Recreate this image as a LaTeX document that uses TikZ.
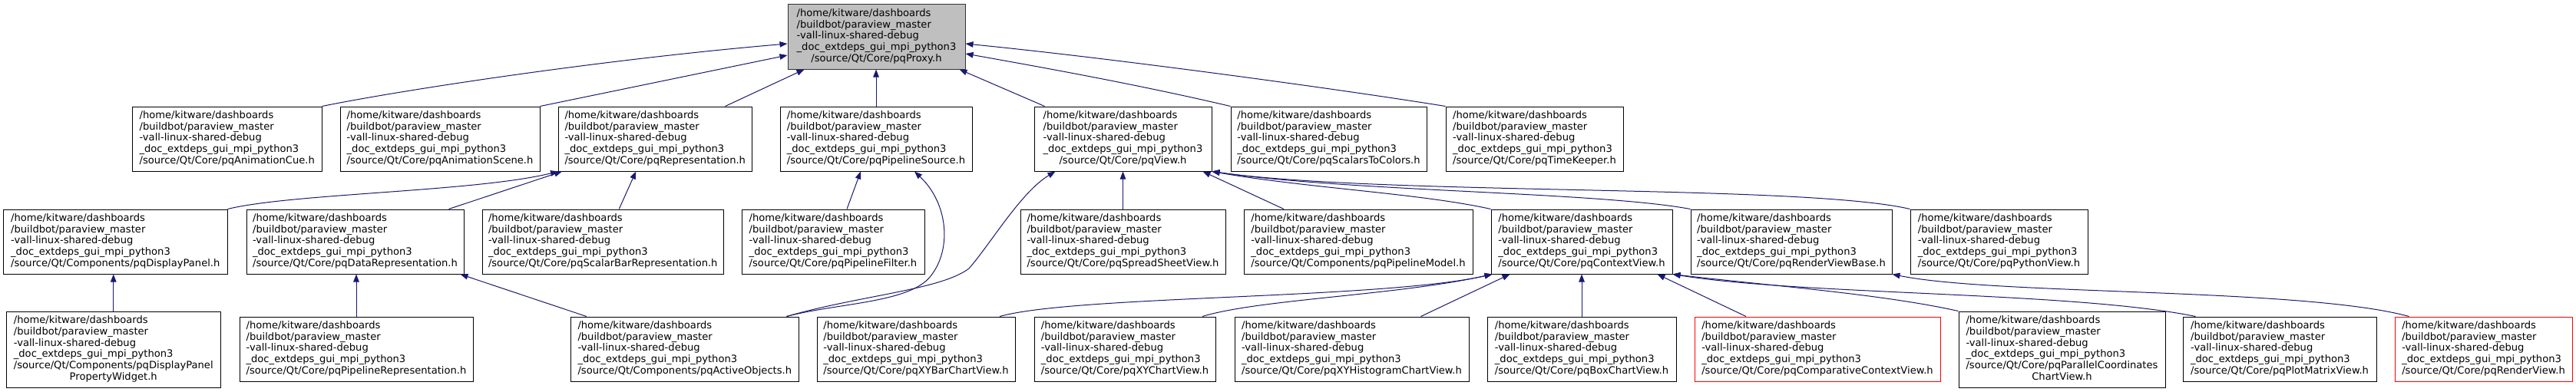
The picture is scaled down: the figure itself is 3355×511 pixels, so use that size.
\documentclass[tikz,border=0pt]{standalone}
\usepackage{fontspec}
\setmainfont{DejaVu Sans}
\usetikzlibrary{arrows.meta}
\definecolor{edgeblue}{RGB}{25,25,112}
\definecolor{proxyfill}{RGB}{191,191,191}
\newcommand{\pre}{/home/kitware/dashboards\\/buildbot/paraview\_master\\-vall-linux-shared-debug\\\_doc\_extdeps\_gui\_mpi\_python3}
\newcommand{\lblA}[1]{\begin{tabular}{@{}l@{}}\pre\\#1\end{tabular}}
\newcommand{\lblC}[1]{\begin{tabular}{@{}l@{}}\pre\\\multicolumn{1}{@{}c@{}}{#1}\end{tabular}}
\newcommand{\lblS}[2]{\begin{tabular}{@{}l@{}}\pre\\#1\\\multicolumn{1}{@{}c@{}}{#2}\end{tabular}}
\begin{document}
\begin{tikzpicture}[x=1pt,y=-1pt,
  nbox/.style={draw=black, line width=1pt, fill=white, rectangle, inner sep=1pt,
    minimum height=84pt, font=\fontsize{13.1pt}{14.75pt}\selectfont},
  tall/.style={minimum height=99pt},
  redbox/.style={draw=red},
  edge/.style={draw=edgeblue, line width=1pt, -{Triangle[length=10pt,width=7.5pt]}}]
\fill[white] (0,0) rectangle (3355,511);
\useasboundingbox (0,0) rectangle (3355,511);
% row 0
\node[nbox, fill=proxyfill, draw=black!80, minimum width=231pt] (proxy) at (1141.5,48) {\lblC{/source/Qt/Core/pqProxy.h}};
% row 1
\node[nbox, minimum width=246.5pt] (cue) at (295.75,181) {\lblA{/source/Qt/Core/pqAnimationCue.h}};
\node[nbox, minimum width=260pt] (scene) at (573,181) {\lblA{/source/Qt/Core/pqAnimationScene.h}};
\node[nbox, minimum width=251.5pt] (rep) at (853.25,181) {\lblA{/source/Qt/Core/pqRepresentation.h}};
\node[nbox, minimum width=250pt] (psrc) at (1141,181) {\lblA{/source/Qt/Core/pqPipelineSource.h}};
\node[nbox, minimum width=231pt] (view) at (1462.5,181) {\lblC{/source/Qt/Core/pqView.h}};
\node[nbox, minimum width=255pt] (s2c) at (1730.5,181) {\lblA{/source/Qt/Core/pqScalarsToColors.h}};
\node[nbox, minimum width=231pt] (tk) at (1998.5,181) {\lblA{/source/Qt/Core/pqTimeKeeper.h}};
% row 2
\node[nbox, minimum width=291.4pt] (dpanel) at (150.3,315) {\lblA{/source/Qt/Components/pqDisplayPanel.h}};
\node[nbox, minimum width=283pt] (datarep) at (462.5,315) {\lblA{/source/Qt/Core/pqDataRepresentation.h}};
\node[nbox, minimum width=314.5pt] (sbrep) at (785.25,315) {\lblA{/source/Qt/Core/pqScalarBarRepresentation.h}};
\node[nbox, minimum width=238pt] (pfilter) at (1085,315) {\lblA{/source/Qt/Core/pqPipelineFilter.h}};
\node[nbox, minimum width=267pt] (ssv) at (1462.5,315) {\lblA{/source/Qt/Core/pqSpreadSheetView.h}};
\node[nbox, minimum width=298pt] (pmodel) at (1769,315) {\lblA{/source/Qt/Components/pqPipelineModel.h}};
\node[nbox, minimum width=236pt] (ctx) at (2060,315) {\lblA{/source/Qt/Core/pqContextView.h}};
\node[nbox, minimum width=262pt] (rvb) at (2333,315) {\lblA{/source/Qt/Core/pqRenderViewBase.h}};
\node[nbox, minimum width=231pt] (pyv) at (2603.5,315) {\lblA{/source/Qt/Core/pqPythonView.h}};
% row 3
\node[nbox, tall, minimum width=279.5pt] (dppw) at (147.75,455.5) {\lblS{/source/Qt/Components/pqDisplayPanel}{PropertyWidget.h}};
\node[nbox, minimum width=304pt] (piperep) at (464,455) {\lblA{/source/Qt/Core/pqPipelineRepresentation.h}};
\node[nbox, minimum width=296.4pt] (active) at (891.8,455) {\lblA{/source/Qt/Components/pqActiveObjects.h}};
\node[nbox, minimum width=258pt] (xybar) at (1193,455) {\lblA{/source/Qt/Core/pqXYBarChartView.h}};
\node[nbox, minimum width=236pt] (xy) at (1465,455) {\lblA{/source/Qt/Core/pqXYChartView.h}};
\node[nbox, minimum width=305pt] (xyhist) at (1760.5,455) {\lblA{/source/Qt/Core/pqXYHistogramChartView.h}};
\node[nbox, minimum width=246pt] (box) at (2060,455) {\lblA{/source/Qt/Core/pqBoxChartView.h}};
\node[nbox, redbox, minimum width=320pt] (comp) at (2367,455) {\lblA{/source/Qt/Core/pqComparativeContextView.h}};
\node[nbox, tall, minimum width=269pt] (pcc) at (2685.5,455.5) {\lblS{/source/Qt/Core/pqParallelCoordinates}{ChartView.h}};
\node[nbox, minimum width=252pt] (pmv) at (2969,455) {\lblA{/source/Qt/Core/pqPlotMatrixView.h}};
\node[nbox, redbox, minimum width=231pt] (rv) at (3234.5,455) {\lblA{/source/Qt/Core/pqRenderView.h}};
% edges to pqProxy
\draw[edge] (cue.north east) .. controls (520,118) and (780,78) .. ([yshift=-9pt]proxy.west);
\draw[edge] (scene.north east) -- ([yshift=-24pt]proxy.west);
\draw[edge] ([xshift=-35pt]rep.north east) -- ([xshift=22pt]proxy.south west);
\draw[edge] (psrc.north) -- (psrc.north |- proxy.south);
\draw[edge] ([xshift=14pt]view.north west) -- ([xshift=-8pt]proxy.south east);
\draw[edge] (s2c.north west) .. controls (1490,112) and (1370,90) .. ([yshift=-22pt]proxy.east);
\draw[edge] (tk.north west) .. controls (1750,117) and (1450,76) .. ([yshift=-9pt]proxy.east);
% edges to pqRepresentation
\draw[edge] (dpanel.north east) .. controls (380,252) and (620,250) .. (rep.south west);
\draw[edge] ([xshift=-20pt]datarep.north east) -- ([xshift=5pt]rep.south west);
\draw[edge] ([xshift=21pt]sbrep.north) -- ([xshift=-25pt]rep.south);
% edges to pqPipelineSource
\draw[edge] ([xshift=18pt]pfilter.north) -- ([xshift=-20pt]psrc.south);
\draw[edge] ([xshift=-16pt]active.north east) .. controls (1090,395) and (1185,395) .. (1212,360) .. controls (1240,325) and (1235,265) .. ([xshift=50pt]psrc.south);
% edges from pqActiveObjects
\draw[edge] ([xshift=-16pt]active.north east) .. controls (1120,385) and (1225,378) .. (1262,350) .. controls (1290,318) and (1330,250) .. ([xshift=28pt]view.south west);
\draw[edge] ([xshift=-128pt]active.north) -- ([xshift=-5pt]datarep.south east);
% vertical edges
\draw[edge] (dppw.north) -- (dppw.north |- dpanel.south);
\draw[edge] (piperep.north) -- (piperep.north |- datarep.south);
\draw[edge] (ssv.north) -- (ssv.north |- view.south);
\draw[edge] (box.north) -- (box.north |- ctx.south);
% edges to pqView
\draw[edge] ([xshift=-97pt]pmodel.north) -- ([xshift=-12pt]view.south east);
\draw[edge] (ctx.north west) .. controls (1850,252) and (1700,245) .. (view.south east);
\draw[edge] (rvb.north west) .. controls (2080,250) and (1760,250) .. (view.south east);
\draw[edge] (pyv.north west) .. controls (2350,240) and (1800,255) .. (view.south east);
% edges to pqContextView
\draw[edge] ([xshift=109pt]xybar.north) .. controls (1400,385) and (1800,390) .. ([xshift=2pt]ctx.south west);
\draw[edge] ([xshift=101pt]xy.north) .. controls (1640,390) and (1820,385) .. ([xshift=2pt]ctx.south west);
\draw[edge] ([xshift=90pt]xyhist.north) -- ([xshift=25pt]ctx.south west);
\draw[edge] ([xshift=-93pt]comp.north) -- ([xshift=-20pt]ctx.south east);
\draw[edge] (pcc.north west) .. controls (2450,383) and (2300,372) .. (ctx.south east);
\draw[edge] ([xshift=17pt]pmv.north west) .. controls (2700,380) and (2350,385) .. (ctx.south east);
% edge to pqRenderViewBase
\draw[edge] ([xshift=19pt]rv.north west) .. controls (3000,375) and (2600,385) .. (rvb.south east);
\end{tikzpicture}
\end{document}
